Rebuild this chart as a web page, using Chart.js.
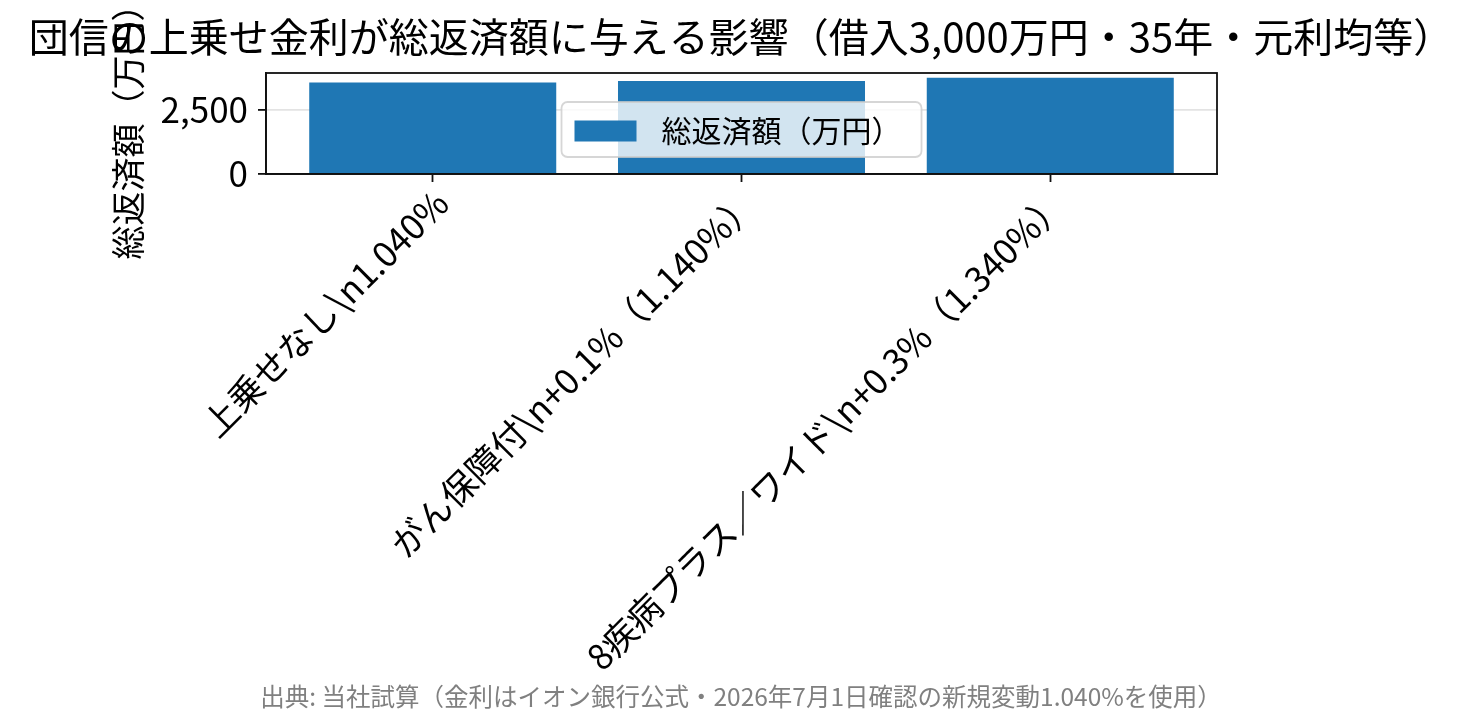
<!DOCTYPE html>
<html lang="ja">
<head>
<meta charset="utf-8">
<script src="https://cdn.jsdelivr.net/npm/chart.js@4.4.1/dist/chart.umd.min.js"></script>
<style>
  html, body { margin: 0; padding: 0; background: #fff; }
  #chart { display: block; }
</style>
</head>
<body>
<canvas id="chart" width="1482" height="725"></canvas>
<script>
// labels contain a literal "\n" in the original, so keep the backslash
const categories = [
  "上乗せなし\\n1.040%",
  "がん保障付\\n+0.1%（1.140%）",
  "8疾病プラス／ワイド\\n+0.3%（1.340%）",
];
const totalRepayment = [3580, 3640, 3760]; // 万円
const yTicks = [0, 2500];
const yMax = 3948;

const seriesLabel = "総返済額（万円）";
const titleText = "団信の上乗せ金利が総返済額に与える影響（借入3,000万円・35年・元利均等）";
const sourceText = "出典: 当社試算（金利はイオン銀行公式・2026年7月1日確認の新規変動1.040%を使用）";

const FONT = "'Noto Sans CJK JP', 'Noto Sans', sans-serif";
const barColor = "#1f77b4";
const gridColor = "rgba(176, 176, 176, 0.35)";

Chart.defaults.font.family = FONT;
Chart.defaults.color = "#000";

// axes frame on all four sides (matplotlib spines)
const framePlugin = {
  id: "frame",
  afterDraw(chart) {
    const { ctx, chartArea: a } = chart;
    ctx.save();
    ctx.strokeStyle = "#111";
    ctx.lineWidth = 1.8;
    ctx.strokeRect(a.left, a.top, a.right - a.left, a.bottom - a.top);
    ctx.restore();
  }
};

// legend drawn inside the plot, lower center
const innerLegend = {
  id: "innerLegend",
  afterDraw(chart) {
    const { ctx, chartArea: a } = chart;
    const ds = chart.data.datasets[0];
    ctx.save();
    ctx.font = "30px " + FONT;
    const tw = ctx.measureText(ds.label).width;
    const w = 13 + 62 + 25 + tw + 20;
    const h = 55;
    const x = (a.left + a.right) / 2 - w / 2;
    const y = a.bottom - 17 - h;

    ctx.beginPath();
    ctx.roundRect(x, y, w, h, 6);
    ctx.fillStyle = "rgba(255, 255, 255, 0.8)";
    ctx.fill();
    ctx.strokeStyle = "rgba(204, 204, 204, 0.8)";
    ctx.lineWidth = 1.8;
    ctx.stroke();

    ctx.fillStyle = ds.backgroundColor;
    ctx.fillRect(x + 13, y + 18.5, 62, 21);

    ctx.fillStyle = "#000";
    ctx.textBaseline = "middle";
    ctx.textAlign = "left";
    ctx.fillText(ds.label, x + 13 + 62 + 25, y + h / 2 + 1);
    ctx.restore();
  }
};

new Chart(document.getElementById("chart"), {
  type: "bar",
  data: {
    datasets: [{
      label: seriesLabel,
      data: totalRepayment.map((v, i) => ({ x: i, y: v })),
      backgroundColor: barColor,
      borderWidth: 0,
      barPercentage: 0.8,
      categoryPercentage: 1.0,
    }]
  },
  options: {
    responsive: false,
    animation: false,
    devicePixelRatio: 1,
    layout: { padding: { top: 11, bottom: 10, left: 0, right: 0 } },
    plugins: {
      legend: { display: false },
      tooltip: { enabled: false },
      title: {
        display: true,
        text: titleText,
        color: "#000",
        font: { size: 40, weight: "normal" },
        padding: { top: 2, bottom: 12 },
      },
      subtitle: {
        display: true,
        position: "bottom",
        text: sourceText,
        color: "#808080",
        font: { size: 24.5, weight: "normal" },
        padding: { top: 6, bottom: 4 },
      },
    },
    scales: {
      x: {
        type: "linear",
        min: -0.54,
        max: categories.length - 1 + 0.54,
        offset: false,
        afterBuildTicks: (s) => { s.ticks = categories.map((c, i) => ({ value: i })); },
        afterFit: (s) => { s.height = 501.6; },
        grid: {
          offset: false,
          drawOnChartArea: false,
          color: "transparent",
          tickColor: "#111",
          tickLength: 8,
          tickWidth: 1.8,
        },
        border: { color: "#111", width: 1.8 },
        ticks: {
          autoSkip: false,
          minRotation: 45,
          maxRotation: 45,
          padding: 0,
          labelOffset: 9,
          font: { size: 35 },
          color: "#000",
          callback: (v) => categories[v],
        },
      },
      y: {
        min: 0,
        max: yMax,
        z: 1,
        afterBuildTicks: (s) => { s.ticks = yTicks.map((v) => ({ value: v })); },
        afterFit: (s) => { s.width = 266; },
        grid: {
          color: (c) => (c.tick && c.tick.value === 0 ? "transparent" : gridColor),
          lineWidth: 1.8,
          tickColor: "#111",
          tickLength: 8,
          tickWidth: 1.8,
        },
        border: { color: "#111", width: 1.8 },
        ticks: {
          padding: 10,
          font: { size: 35 },
          color: "#000",
          callback: (v) => v.toLocaleString("en-US"),
        },
        title: {
          display: true,
          text: seriesLabel,
          color: "#000",
          font: { size: 34 },
          padding: { top: 108, bottom: 4 },
        },
      },
      y2: {
        position: "right",
        display: true,
        afterFit: (s) => { s.width = 1482 - 1217; },
        grid: { display: false },
        border: { display: false },
        ticks: { display: false },
      },
    },
  },
  plugins: [framePlugin, innerLegend],
});
</script>
</body>
</html>
